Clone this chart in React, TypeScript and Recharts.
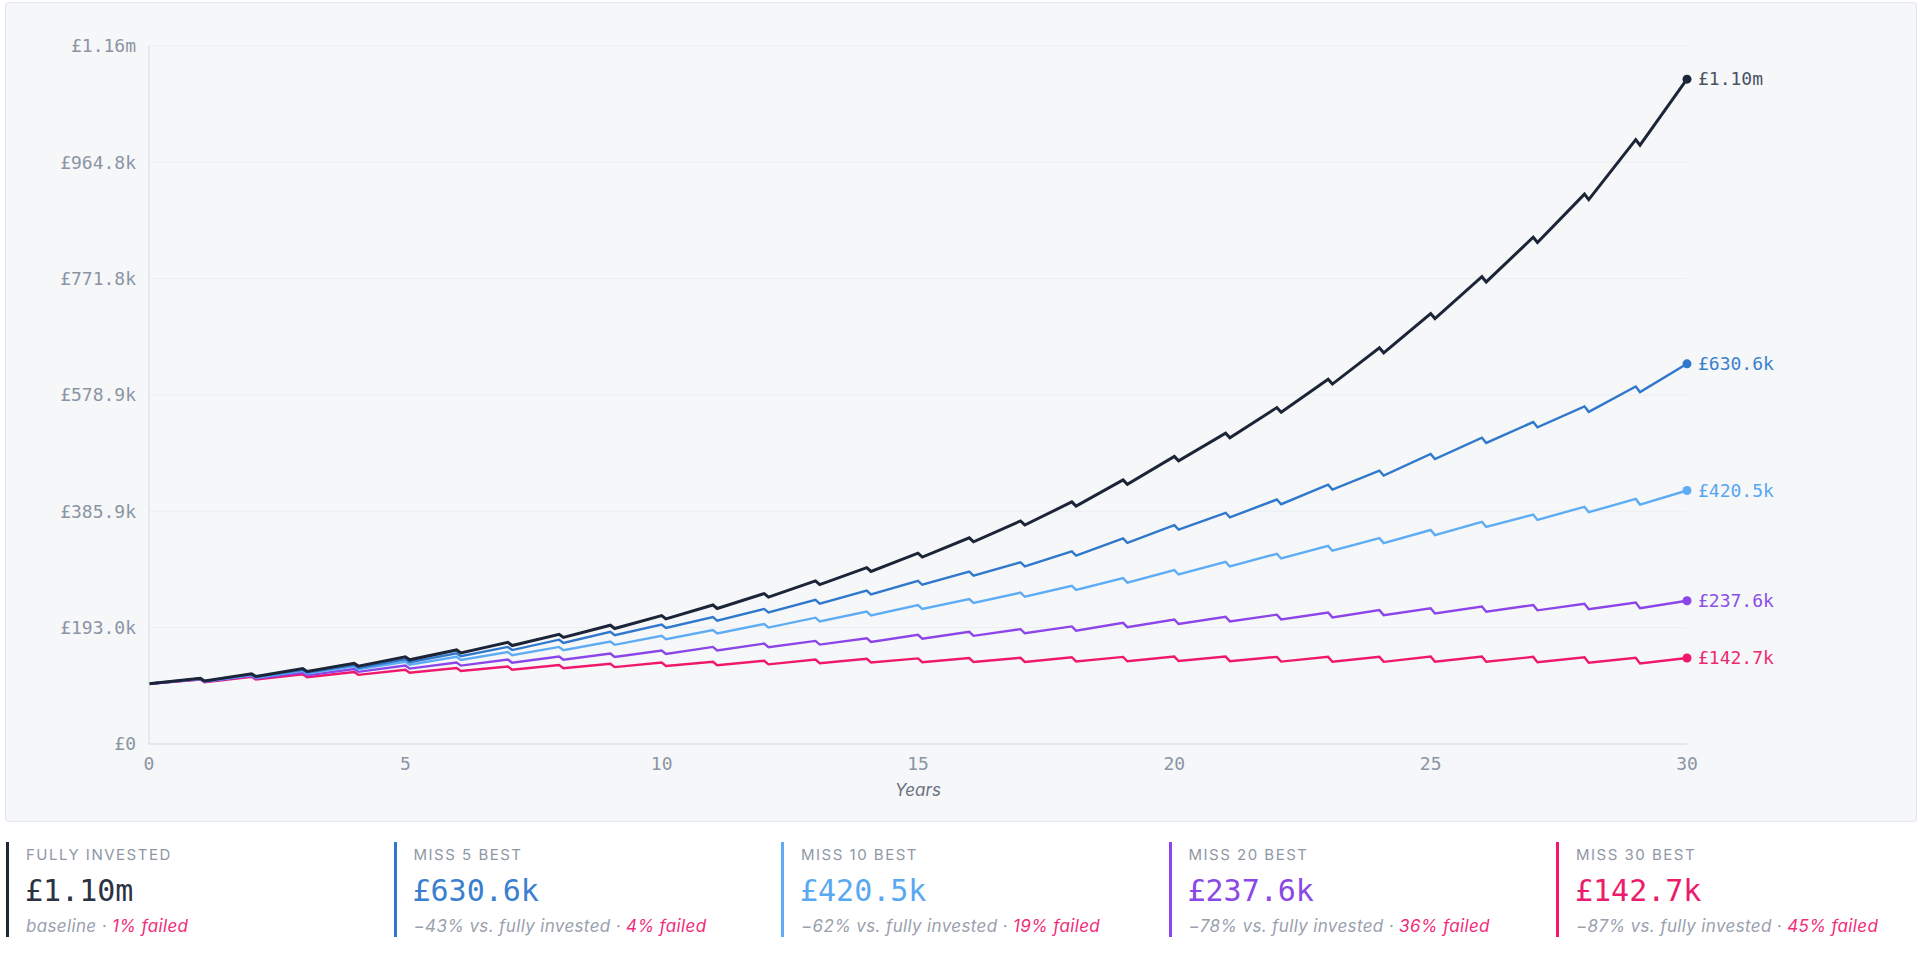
import { LineChart, Line, XAxis, YAxis, CartesianGrid } from "recharts";

// values in £k; "END" = value at each year mark (year 0 = start), "AFTER" = just after the yearly withdrawal (years 1..29)
const YEARS = [0, 1, 2, 3, 4, 5, 6, 7, 8, 9, 10, 11, 12, 13, 14, 15, 16, 17, 18, 19, 20, 21, 22, 23, 24, 25, 26, 27, 28, 29, 30];

const FULLY_END = [100.0, 109.0, 116.5, 125.0, 134.0, 144.5, 156.0, 168.5, 182.0, 197.0, 213.0, 230.5, 249.5, 270.5, 292.5, 316.5, 342.0, 370.0, 401.5, 438.0, 477.0, 515.5, 558.0, 605.0, 657.0, 714.0, 775.0, 840.5, 912.0, 1002.5, 1102.7];
const FULLY_AFTER = [104.6, 112.0, 120.4, 129.2, 139.6, 151.0, 163.3, 176.7, 191.5, 207.4, 224.7, 243.6, 264.4, 286.2, 310.1, 335.4, 363.2, 394.5, 430.8, 469.6, 507.9, 550.2, 597.0, 648.8, 705.6, 766.4, 831.7, 902.9, 993.2];

const MISS5_END = [100.0, 108.5, 115.5, 123.0, 131.0, 140.5, 150.5, 161.0, 173.0, 186.0, 198.0, 210.5, 224.0, 239.0, 254.5, 270.5, 286.0, 301.5, 319.5, 341.0, 363.0, 383.5, 405.5, 430.0, 453.5, 481.0, 508.0, 534.0, 560.0, 593.0, 630.6];
const MISS5_AFTER = [104.1, 111.0, 118.4, 126.2, 135.6, 145.5, 155.8, 167.7, 180.5, 192.4, 204.7, 218.1, 232.9, 248.2, 264.1, 279.4, 294.7, 312.5, 333.8, 355.6, 375.9, 397.7, 422.0, 445.3, 472.6, 499.4, 525.2, 550.9, 583.7];

const MISS10_END = [100.0, 108.0, 114.5, 121.5, 129.0, 136.5, 144.5, 152.5, 161.0, 170.0, 179.5, 189.0, 199.0, 209.5, 219.5, 230.5, 240.5, 251.0, 262.5, 275.0, 288.5, 302.0, 315.5, 328.5, 341.5, 355.0, 368.5, 380.5, 393.5, 406.5, 420.5];
const MISS10_AFTER = [103.6, 110.0, 116.9, 124.2, 131.6, 139.5, 147.3, 155.7, 164.5, 173.9, 183.2, 193.1, 203.4, 213.2, 224.1, 233.9, 244.2, 255.5, 267.8, 281.1, 294.4, 307.7, 320.5, 333.3, 346.6, 359.9, 371.7, 384.4, 397.2];

const MISS20_END = [100.0, 107.5, 113.0, 118.5, 124.5, 130.0, 135.0, 140.0, 145.0, 150.0, 155.0, 161.0, 166.5, 171.0, 175.5, 181.0, 186.0, 190.5, 195.0, 201.0, 206.5, 211.0, 214.5, 218.0, 222.0, 225.0, 228.0, 230.5, 232.5, 234.5, 237.6];
const MISS20_AFTER = [103.1, 108.5, 113.9, 119.7, 125.1, 130.0, 134.8, 139.7, 144.5, 149.4, 155.2, 160.6, 164.9, 169.2, 174.6, 179.4, 183.7, 188.0, 193.8, 199.1, 203.4, 206.7, 210.0, 213.8, 216.6, 219.4, 221.7, 223.4, 225.2];

const MISS30_END = [100.0, 107.0, 111.5, 115.5, 119.5, 123.0, 126.0, 128.5, 131.0, 133.0, 135.0, 136.5, 138.0, 140.0, 141.5, 142.0, 142.5, 143.0, 144.0, 144.5, 145.0, 145.0, 144.5, 144.5, 144.5, 145.0, 145.0, 144.5, 144.0, 143.0, 142.7];
const MISS30_AFTER = [102.6, 107.0, 110.9, 114.7, 118.1, 121.0, 123.3, 125.7, 127.5, 129.4, 130.7, 132.1, 133.9, 135.2, 135.6, 135.9, 136.2, 137.0, 137.3, 137.6, 137.4, 136.7, 136.5, 136.3, 136.6, 136.4, 135.7, 134.9, 133.7];

const Y_TICKS = [0, 192.955, 385.91, 578.865, 771.82, 964.775, 1157.73];
const X_TICKS = [0, 5, 10, 15, 20, 25, 30];

const END_LABELS = ["£1.10m", "£630.6k", "£420.5k", "£237.6k", "£142.7k"];
const CARD_TITLES = ["FULLY INVESTED", "MISS 5 BEST", "MISS 10 BEST", "MISS 20 BEST", "MISS 30 BEST"];
const CARD_NOTES = ["baseline", "−43% vs. fully invested", "−62% vs. fully invested", "−78% vs. fully invested", "−87% vs. fully invested"];
const CARD_FAILED = ["1% failed", "4% failed", "19% failed", "36% failed", "45% failed"];

const MONO = "'DejaVu Sans Mono', 'Liberation Mono', monospace";
const SANS = "Inter, 'Noto Sans', sans-serif";

const SERIES = [
  { key: "m30", end: MISS30_END, after: MISS30_AFTER, color: "#f0186b", text: "#ec2a72", width: 2.4, idx: 4 },
  { key: "m20", end: MISS20_END, after: MISS20_AFTER, color: "#8b45e8", text: "#8a4fe6", width: 2.4, idx: 3 },
  { key: "m10", end: MISS10_END, after: MISS10_AFTER, color: "#5eacf4", text: "#58a6ee", width: 2.4, idx: 2 },
  { key: "m5", end: MISS5_END, after: MISS5_AFTER, color: "#2f78cc", text: "#3b7fcb", width: 2.4, idx: 1 },
  { key: "fi", end: FULLY_END, after: FULLY_AFTER, color: "#1c2538", text: "#4a5262", width: 3, idx: 0 },
];

const CARD_COLORS = ["#1e2638", "#2f78cc", "#5eacf4", "#8b45e8", "#f0186b"];
const VALUE_COLORS = ["#2b3243", "#3a7fd0", "#5aa8f2", "#8a48e6", "#ec1c6c"];

type Row = { t: number; [k: string]: number };

const rows: Row[] = [];
YEARS.forEach((yr, i) => {
  const r: Row = { t: yr };
  SERIES.forEach((s) => (r[s.key] = s.end[i]));
  rows.push(r);
  if (i >= 1 && i <= FULLY_AFTER.length) {
    const a: Row = { t: yr + 1 / 12 };
    SERIES.forEach((s) => (a[s.key] = s.after[i - 1]));
    rows.push(a);
  }
});

const fmtY = (v: number) => {
  if (v === 0) return "£0";
  if (v >= 1000) return `£${(v / 1000).toFixed(2)}m`;
  return `£${v.toFixed(1)}k`;
};

const endDot = (color: string, textColor: string, label: string) => (props: any) => {
  const { cx, cy, index } = props;
  if (index !== rows.length - 1) return <g key={`d-${index}`} />;
  return (
    <g key={`end-${label}`}>
      <circle cx={cx} cy={cy} r={4.5} fill={color} />
      <text x={cx + 11} y={cy} dy="0.35em" fill={textColor} fontSize={18} fontFamily={MONO}>
        {label}
      </text>
    </g>
  );
};

const App = () => {
  return (
    <div style={{ position: "absolute", left: 0, top: 0, width: 1920, height: 970, overflow: "hidden", background: "#ffffff" }}>
      <div
        style={{
          position: "absolute",
          left: 5,
          top: 2,
          width: 1912,
          height: 820,
          boxSizing: "border-box",
          border: "1.5px solid #e3e6ec",
          borderRadius: 3,
          background: "#f6f7f9",
        }}
      />
      <div style={{ position: "absolute", left: 0, top: 0 }}>
        <LineChart width={1920} height={822} data={rows} margin={{ top: 46, right: 233, bottom: 22, left: 0 }}>
          <CartesianGrid vertical={false} stroke="#eceef2" />
          <XAxis
            dataKey="t"
            type="number"
            domain={[0, 30]}
            ticks={X_TICKS}
            height={56}
            tickLine={false}
            tickMargin={7}
            axisLine={{ stroke: "#d6dae2" }}
            tick={{ fill: "#8b94a3", fontSize: 18, fontFamily: MONO }}
            label={{ value: "Years", position: "insideBottom", offset: 4, fill: "#6b7280", fontSize: 17, fontStyle: "italic", fontFamily: SANS }}
          />
          <YAxis
            domain={[0, 1157.73]}
            ticks={Y_TICKS}
            width={149}
            tickLine={false}
            tickMargin={7}
            axisLine={{ stroke: "#d6dae2" }}
            tickFormatter={fmtY}
            tick={{ fill: "#8b94a3", fontSize: 18, fontFamily: MONO }}
          />
          {SERIES.map((s) => (
            <Line
              key={s.key}
              type="linear"
              dataKey={s.key}
              stroke={s.color}
              strokeWidth={s.width}
              dot={endDot(s.color, s.text, END_LABELS[s.idx])}
              activeDot={false}
              isAnimationActive={false}
            />
          ))}
        </LineChart>
      </div>
      <div style={{ position: "absolute", left: 6, top: 842, display: "flex" }}>
        {CARD_TITLES.map((title, i) => (
          <div
            key={title}
            style={{
              position: "relative",
              width: 387.5,
              height: 95,
              flex: "none",
              boxSizing: "border-box",
              borderLeft: `3px solid ${CARD_COLORS[i]}`,
            }}
          >
            <div
              style={{
                position: "absolute",
                left: 17,
                top: 4,
                lineHeight: "18px",
                fontSize: 15,
                letterSpacing: 1.5,
                color: "#8f97a5",
                fontFamily: SANS,
                whiteSpace: "nowrap",
              }}
            >
              {title}
            </div>
            <div
              style={{
                position: "absolute",
                left: 16,
                top: 31,
                lineHeight: "36px",
                fontSize: 30,
                color: VALUE_COLORS[i],
                fontFamily: MONO,
                whiteSpace: "nowrap",
              }}
            >
              {END_LABELS[i]}
            </div>
            <div
              style={{
                position: "absolute",
                left: 17,
                top: 73,
                lineHeight: "22px",
                fontSize: 17,
                letterSpacing: 0.35,
                fontStyle: "italic",
                color: "#9aa1ae",
                fontFamily: SANS,
                whiteSpace: "nowrap",
              }}
            >
              {CARD_NOTES[i]} · <span style={{ color: "#ef2d7a" }}>{CARD_FAILED[i]}</span>
            </div>
          </div>
        ))}
      </div>
    </div>
  );
};

export default App;
